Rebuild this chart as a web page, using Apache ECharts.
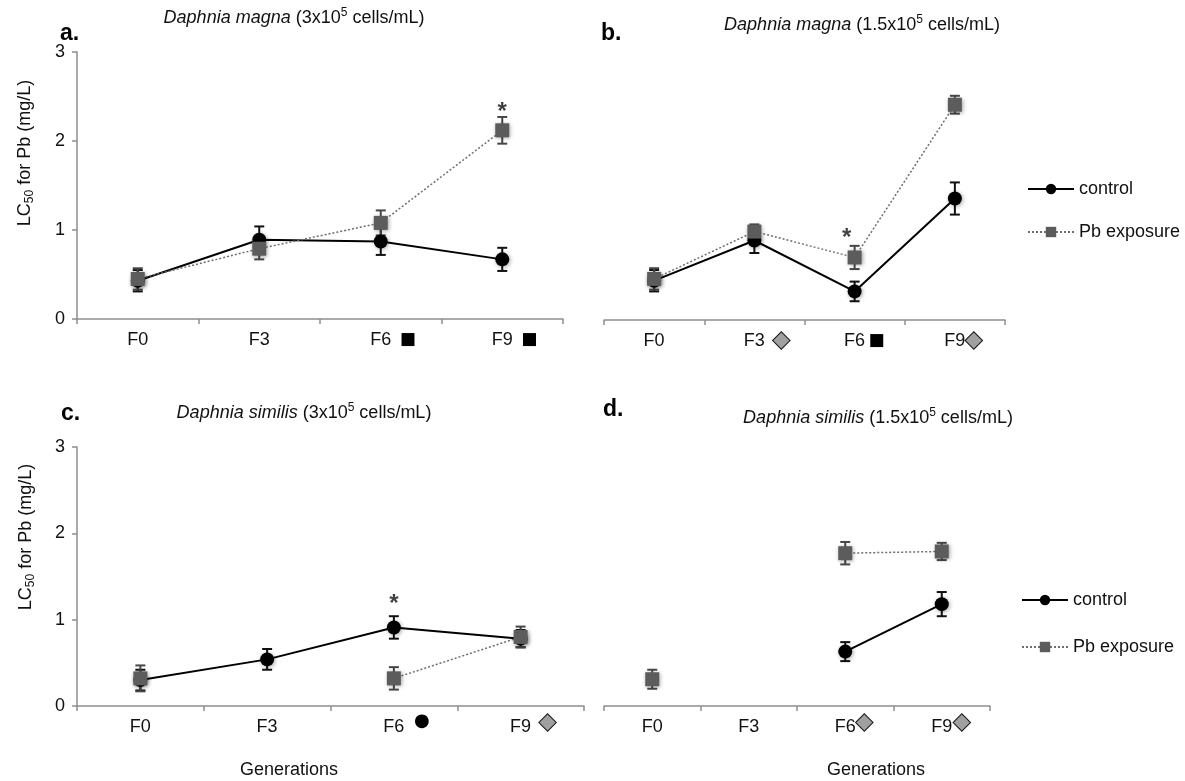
<!DOCTYPE html>
<html>
<head>
<meta charset="utf-8">
<script src="https://cdn.jsdelivr.net/npm/echarts@6/dist/echarts.min.js"></script>
<style>
  html, body { margin: 0; padding: 0; background: #fff; }
  #chart { width: 1185px; height: 781px; }
</style>
</head>
<body>
<div id="chart"></div>
<script>
const generations = ["F0", "F3", "F6", "F9"]
const yTicks = [0, 1, 2, 3]

// a. Daphnia magna, 3x10^5 cells/mL
const aControl = [0.43, 0.89, 0.87, 0.67]
const aControlErr = [0.12, 0.15, 0.15, 0.13]
const aPb = [0.45, 0.79, 1.08, 2.12]
const aPbErr = [0.12, 0.12, 0.14, 0.15]
const aMarks = [null, null, "sq", "sq"]
const aStars = [[3, 2.38]]

// b. Daphnia magna, 1.5x10^5 cells/mL
const bControl = [0.44, 0.89, 0.32, 1.36]
const bControlErr = [0.12, 0.14, 0.11, 0.18]
const bPb = [0.46, 0.99, 0.7, 2.41]
const bPbErr = [0.12, 0.08, 0.13, 0.1]
const bMarks = [null, "di", "sq", "di"]
const bStars = [[2, 0.97]]

// c. Daphnia similis, 3x10^5 cells/mL
const cControl = [0.3, 0.54, 0.91, 0.78]
const cControlErr = [0.12, 0.12, 0.13, 0.1]
const cPb = [0.32, null, 0.32, 0.8]
const cPbErr = [0.15, null, 0.13, 0.12]
const cMarks = [null, null, "ci", "di"]
const cStars = [[2, 1.24]]

// d. Daphnia similis, 1.5x10^5 cells/mL
const dControl = [null, null, 0.63, 1.18]
const dControlErr = [null, null, 0.11, 0.14]
const dPb = [0.31, null, 1.77, 1.79]
const dPbErr = [0.11, null, 0.13, 0.1]
const dMarks = [null, null, "di", "di"]
const dStars = []

const FONT = "Liberation Sans, Arial, Helvetica, sans-serif"
const axisColor = "#8e8e8e"
const glyphs = { sq: "■", ci: "●", di: "◆" }

// layout
const grids = [
  { left: 77, top: 52, width: 486, height: 267 },
  { left: 604, top: 52, width: 401, height: 268 },
  { left: 77, top: 447, width: 507, height: 259 },
  { left: 604, top: 447, width: 386, height: 259 }
]
const labelGaps = [
  [0, 0, 8, 8],
  [0, 8, 3, 0],
  [0, 0, 9, 8],
  [0, 0, 0, 1]
]
const raised = [false, false, true, true]
const starOffsets = [[0, 5], [-8, 5], [0, 5], [0, 5]]
const MW = 17

const markerRich = (up) => {
  const base = { fontFamily: "DejaVu Sans", width: MW }
  const va = up ? { verticalAlign: "top", lineHeight: 18 } : {}
  const r = {
    sq: Object.assign({}, base, va, { fontSize: 17, color: "#000" }),
    ci: Object.assign({}, base, va, { fontSize: 18, color: "#000" }),
    di: Object.assign({}, base, va, {
      fontSize: 21, color: "#a0a0a0", textBorderColor: "#111", textBorderWidth: 2
    })
  }
  for (let g = 0; g <= 12; g++) {
    r["g" + g] = { width: g }
    r["p" + g] = { width: g + MW }
  }
  return r
}

const xAxis = (idx, marks) => ({
  type: "category",
  gridIndex: idx,
  data: generations,
  boundaryGap: true,
  axisLine: { show: true, onZero: false, lineStyle: { color: axisColor, width: 1.5 } },
  axisTick: { show: true, length: 5, interval: 0, lineStyle: { color: axisColor, width: 1.5 } },
  axisLabel: {
    interval: 0,
    margin: raised[idx] ? 6 : 11,
    lineHeight: raised[idx] ? 30 : 20,
    fontSize: 18,
    fontFamily: FONT,
    color: "#111",
    rich: markerRich(raised[idx]),
    formatter: (value, i) => {
      const m = marks[i]
      if (!m) return value
      const g = labelGaps[idx][i]
      return "{p" + g + "|}" + value + "{g" + g + "|}{" + m + "|" + glyphs[m] + "}"
    }
  }
})

const yAxis = (idx, visible) => ({
  type: "value",
  gridIndex: idx,
  min: 0,
  max: 3,
  interval: 1,
  axisLine: { show: visible, lineStyle: { color: axisColor, width: 1.5 } },
  axisTick: { show: visible, length: 5, lineStyle: { color: axisColor, width: 1.5 } },
  axisLabel: {
    show: visible,
    margin: 12,
    fontSize: 18,
    fontFamily: FONT,
    color: "#111",
    formatter: (v) => (yTicks.indexOf(v) >= 0 ? String(v) : "")
  },
  splitLine: { show: false }
})

const toLine = (arr) => arr.map((v) => (v == null ? "-" : v))
const toErr = (vals, errs) => {
  const out = []
  vals.forEach((v, i) => {
    if (v != null && errs[i] != null) out.push([i, v - errs[i], v + errs[i]])
  })
  return out
}

const errorBars = (idx, data, color) => ({
  type: "custom",
  xAxisIndex: idx,
  yAxisIndex: idx,
  z: 2,
  silent: true,
  encode: { x: 0, y: [1, 2] },
  data: data,
  renderItem: (params, api) => {
    const x = api.value(0)
    const lo = api.coord([x, api.value(1)])
    const hi = api.coord([x, api.value(2)])
    const cap = 5
    const st = { stroke: color, lineWidth: 2 }
    return {
      type: "group",
      children: [
        { type: "line", shape: { x1: lo[0], y1: lo[1], x2: hi[0], y2: hi[1] }, style: st },
        { type: "line", shape: { x1: lo[0] - cap, y1: lo[1], x2: lo[0] + cap, y2: lo[1] }, style: st },
        { type: "line", shape: { x1: hi[0] - cap, y1: hi[1], x2: hi[0] + cap, y2: hi[1] }, style: st }
      ]
    }
  }
})

const shadow = { shadowBlur: 4, shadowColor: "rgba(0,0,0,0.35)", shadowOffsetX: 1, shadowOffsetY: 1 }

const panelSeries = (idx, control, controlErr, pb, pbErr, stars) => [
  errorBars(idx, toErr(control, controlErr), "#111"),
  errorBars(idx, toErr(pb, pbErr), "#474747"),
  {
    name: "control",
    type: "line",
    xAxisIndex: idx,
    yAxisIndex: idx,
    z: 3,
    data: toLine(control),
    connectNulls: false,
    symbol: "circle",
    symbolSize: 14,
    showAllSymbol: true,
    itemStyle: Object.assign({ color: "#000" }, shadow),
    lineStyle: { color: "#000", width: 2 }
  },
  {
    name: "Pb exposure",
    type: "line",
    xAxisIndex: idx,
    yAxisIndex: idx,
    z: 4,
    data: toLine(pb),
    connectNulls: false,
    symbol: "rect",
    symbolSize: 14,
    showAllSymbol: true,
    itemStyle: Object.assign({ color: "#5c5c5c" }, shadow),
    lineStyle: { color: "#6e6e6e", width: 1.5, type: [2, 2] }
  },
  {
    type: "scatter",
    xAxisIndex: idx,
    yAxisIndex: idx,
    z: 5,
    silent: true,
    data: stars,
    symbolSize: 1,
    itemStyle: { color: "rgba(0,0,0,0)" },
    label: {
      show: true,
      position: "inside",
      formatter: "*",
      fontSize: 24,
      fontWeight: "bold",
      fontFamily: FONT,
      color: "#111",
      offset: starOffsets[idx]
    }
  }
]

const titleRich = {
  i: { fontStyle: "italic", fontSize: 18, fontFamily: FONT, lineHeight: 22, fill: "#111" },
  t: { fontSize: 18, fontFamily: FONT, lineHeight: 22, fill: "#111" },
  sup: { fontSize: 12, fontFamily: FONT, lineHeight: 13, verticalAlign: "top", fill: "#111" }
}
const titleText = (x, y, species, conc) => ({
  type: "text",
  x: x,
  y: y,
  silent: true,
  style: {
    text: "{i|" + species + "}{t| (" + conc + "x10}{sup|5}{t| cells/mL)}",
    rich: titleRich,
    align: "center",
    verticalAlign: "middle"
  }
})
const plainText = (x, y, text, opts) => ({
  type: "text",
  x: x,
  y: y,
  silent: true,
  style: Object.assign({
    text: text,
    font: "18px " + FONT,
    fill: "#111",
    align: "center",
    verticalAlign: "middle"
  }, (opts && opts.style) || {})
})
const yName = (x, y) => ({
  type: "text",
  x: x,
  y: y,
  silent: true,
  rotation: Math.PI / 2,
  style: {
    text: "{t|LC}{sub|50}{t| for Pb (mg/L)}",
    rich: {
      t: { fontSize: 18, fontFamily: FONT, lineHeight: 22, fill: "#111" },
      sub: { fontSize: 12, fontFamily: FONT, lineHeight: 13, verticalAlign: "bottom", fill: "#111" }
    },
    align: "center",
    verticalAlign: "middle"
  }
})
const panelLabel = (x, y, text) =>
  plainText(x, y, text, { style: { font: "bold 23px " + FONT, align: "left", fill: "#000" } })

const legendBase = {
  orient: "vertical",
  selectedMode: false,
  itemWidth: 46,
  itemHeight: 13,
  data: ["control", "Pb exposure"],
  textStyle: { fontSize: 18, fontFamily: FONT, color: "#111" }
}

const option = {
  animation: false,
  backgroundColor: "#fff",
  grid: grids.map((g) => Object.assign({ containLabel: false }, g)),
  xAxis: [xAxis(0, aMarks), xAxis(1, bMarks), xAxis(2, cMarks), xAxis(3, dMarks)],
  yAxis: [yAxis(0, true), yAxis(1, false), yAxis(2, true), yAxis(3, false)],
  legend: [
    Object.assign({}, legendBase, { left: 1022, top: 175, itemGap: 25 }),
    Object.assign({}, legendBase, { left: 1016, top: 586, itemGap: 29 })
  ],
  graphic: [
    titleText(294, 18, "Daphnia magna", "3"),
    titleText(862, 25, "Daphnia magna", "1.5"),
    titleText(304, 413, "Daphnia similis", "3"),
    titleText(878, 418, "Daphnia similis", "1.5"),
    panelLabel(60, 34, "a."),
    panelLabel(601, 34, "b."),
    panelLabel(61, 414, "c."),
    panelLabel(603, 410, "d."),
    yName(25, 153),
    yName(26, 537),
    plainText(289, 770, "Generations"),
    plainText(876, 770, "Generations")
  ],
  series: [].concat(
    panelSeries(0, aControl, aControlErr, aPb, aPbErr, aStars),
    panelSeries(1, bControl, bControlErr, bPb, bPbErr, bStars),
    panelSeries(2, cControl, cControlErr, cPb, cPbErr, cStars),
    panelSeries(3, dControl, dControlErr, dPb, dPbErr, dStars)
  )
}

const chartBox = echarts.init(document.getElementById("chart"))
chartBox.setOption(option)
</script>
</body>
</html>
